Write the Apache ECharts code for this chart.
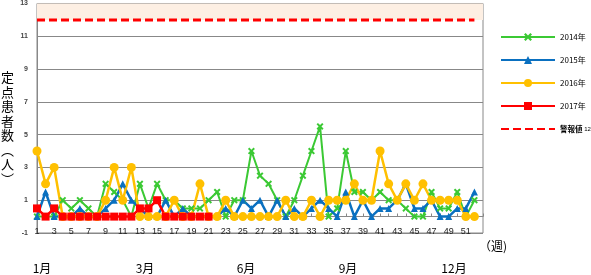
<!DOCTYPE html>
<html>
<head>
<meta charset="utf-8">
<script src="https://cdn.jsdelivr.net/npm/echarts@6/dist/echarts.min.js"></script>
<style>html,body{margin:0;padding:0;background:#fff}#c{width:591px;height:275px}</style>
</head>
<body>
<div id="c"></div>
<script>
const weeks = ['1','2','3','4','5','6','7','8','9','10','11','12','13','14','15','16','17','18','19','20',
  '21','22','23','24','25','26','27','28','29','30','31','32','33','34','35','36','37','38','39','40',
  '41','42','43','44','45','46','47','48','49','50','51','52',''];
const y2014 = [0,0,0,1,0.5,1,0.5,0,2,1.5,1,0,2,0.5,2,1,1,0.5,0.5,0.5,1,1.5,0,1,1,4,2.5,2,1,0,1,2.5,4,5.5,0,0.5,4,1.5,1.5,1,1.5,1,1,0.5,0,0,1.5,0.5,0.5,1.5,0,1];
const y2015 = [0,1.5,0,0,0,0.5,0,0,0.5,1,2,1,0.5,0,0,1,0,0.5,0,0,0,0,0.5,0,1,0.5,1,0,1,0,0.5,0,0.5,1,0.5,0,1.5,0,1,0,0.5,0.5,1,2,0.5,0.5,1,0,0,0.5,0.5,1.5];
const y2016 = [4,2,3,0,0,0,0,0,1,3,1,3,0,0,0,0,1,0,0,2,0,0,1,0,0,0,0,0,0,1,0,0,1,0,1,1,1,2,1,1,4,2,1,2,1,2,1,1,1,1,0,0];
const y2017 = [0.5,0,0.5,0,0,0,0,0,0,0,0,0,0.5,0.5,1,0,0,0,0,0,0];
const alarm = [12,12,12,12,12,12,12,12,12,12,12,12,12,12,12,12,12,12,12,12,12,12,12,12,12,12,
  12,12,12,12,12,12,12,12,12,12,12,12,12,12,12,12,12,12,12,12,12,12,12,12,12,12];
const alarmBand = [12, 13];
const yMin = -1, yMax = 13, yStep = 2;
const seriesNames = ['2014年','2015年','2016年','2017年','警報値 12'];
const months = [
  {t:'1月', x:42}, {t:'3月', x:145}, {t:'6月', x:246}, {t:'9月', x:348}, {t:'12月', x:454}
];

const FF = 'Liberation Sans, Arial, Noto Sans CJK JP, sans-serif';
const JF = 'Noto Sans CJK JP, sans-serif';
const xSym = 'path://M0,2 L2,0 L5,3 L8,0 L10,2 L7,5 L10,8 L8,10 L5,7 L2,10 L0,8 L3,5 Z';

const chart = echarts.init(document.getElementById('c'), null, {renderer:'canvas'});
chart.setOption({
  animation: false,
  backgroundColor: '#fff',
  grid: {left: 37, right: 108, top: 2, bottom: 42, show: true, borderColor: '#888', borderWidth: 1, backgroundColor: 'transparent'},
  legend: {
    orient: 'vertical', left: 495, top: 28, itemWidth: 54, itemHeight: 10, itemGap: 15,
    data: [seriesNames[0], seriesNames[1], seriesNames[2], seriesNames[3],
      {name: seriesNames[4], itemStyle: {opacity: 0}}],
    formatter: n => n === seriesNames[4] ? '{a|警報値}{b| 12}' : n,
    textStyle: {fontSize: 8, color: '#000', fontFamily: JF,
      rich: {a: {fontSize: 7.5, fontWeight: 'bold', fontFamily: JF, color: '#000'}, b: {fontSize: 6, fontFamily: FF, color: '#000'}}}
  },
  xAxis: {
    type: 'category', data: weeks, boundaryGap: false, position: 'bottom', offset: -16.5,
    axisLine: {onZero: false, lineStyle: {color: '#888', width: 1}},
    axisTick: {show: true, interval: 0, inside: true, length: 3, lineStyle: {color: '#888'}},
    axisLabel: {interval: 1, fontSize: 9, color: '#222', margin: 11, fontFamily: FF},
    splitLine: {show: false}
  },
  yAxis: [
    {type: 'value', min: yMin, max: yMax, position: 'right',
     axisLine: {show: false}, axisTick: {show: false}, axisLabel: {show: false}, splitLine: {show: false}},
    {type: 'value', min: 0, max: yMax - yMin, interval: yStep, position: 'left',
     axisLine: {show: true, lineStyle: {color: '#888'}}, axisTick: {show: false},
     axisLabel: {fontSize: 7, color: '#444', margin: 9, fontWeight: 'bold', fontFamily: FF, formatter: v => String(v + yMin)},
     splitLine: {show: true, lineStyle: {color: '#888', width: 1}}}
  ],
  series: [
    {name: seriesNames[0], type: 'line', data: y2014, yAxisIndex: 0, symbol: xSym, symbolSize: 7, showAllSymbol: true,
     itemStyle: {color: '#3BC934'}, lineStyle: {width: 2, color: '#3BC934'}},
    {name: seriesNames[1], type: 'line', data: y2015, yAxisIndex: 0, symbol: 'triangle', symbolSize: 7, showAllSymbol: true,
     itemStyle: {color: '#0A70C0'}, lineStyle: {width: 2.5, color: '#0A70C0'}},
    {name: seriesNames[2], type: 'line', data: y2016, yAxisIndex: 0, symbol: 'circle', symbolSize: 9, showAllSymbol: true,
     itemStyle: {color: '#FFC000'}, lineStyle: {width: 2.5, color: '#FFC000'}},
    {name: seriesNames[3], type: 'line', data: y2017, yAxisIndex: 0, symbol: 'rect', symbolSize: 8, showAllSymbol: true,
     itemStyle: {color: '#FF0000'}, lineStyle: {width: 2.5, color: '#FF0000'}},
    {name: seriesNames[4], type: 'line', data: alarm, yAxisIndex: 0, symbol: 'none', z: 1,
     itemStyle: {color: '#FF0000'}, lineStyle: {width: 3, type: [8, 4], color: '#FF0000'},
     markArea: {silent: true, itemStyle: {color: '#FDEFE3'}, data: [[{yAxis: alarmBand[0]}, {yAxis: alarmBand[1]}]]}}
  ],
  graphic: [
    {type: 'text', left: 1, top: 70, style: {text: '定\n点\n患\n者\n数\n︵\n人\n︶', fontSize: 13, lineHeight: 14.5, fill: '#000', fontFamily: JF}},
    {type: 'text', left: 479, top: 240, style: {text: '（週)', fontSize: 12, fill: '#000', fontFamily: JF}}
  ].concat(months.map(m => ({type: 'text', x: m.x, y: 268, style: {text: m.t, fontSize: 12, fill: '#000', fontFamily: JF, align: 'center', verticalAlign: 'middle'}})))
});
</script>
</body>
</html>
